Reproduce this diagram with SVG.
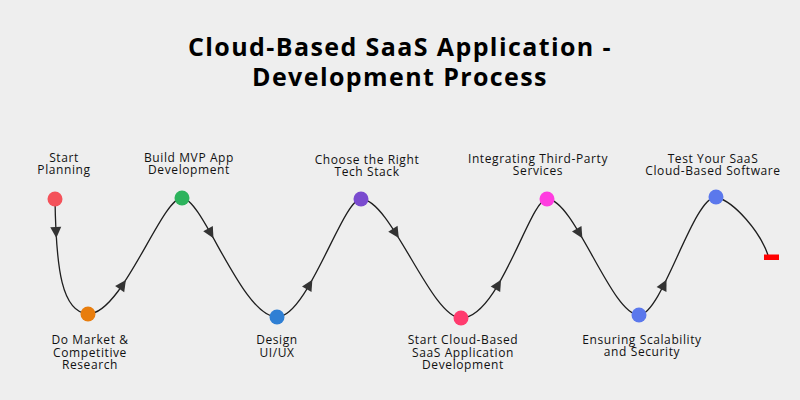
<svg xmlns="http://www.w3.org/2000/svg" width="800" height="400" viewBox="0 0 800 400">
<defs>
<style>
.title{font-family:"Open Sans","Liberation Sans",sans-serif;font-weight:700;font-size:25px;fill:#000;text-anchor:middle;letter-spacing:1.4px}
.lbl{font-family:"Open Sans","Liberation Sans",sans-serif;font-size:12px;fill:#111;text-anchor:middle;letter-spacing:0.6px}
.curve{fill:none;stroke:#1e1e1e;stroke-width:1.3}
</style>
<path id="ah" d="M6,0 L-5,-5.5 L-5,5.5 Z" fill="#333"/>
</defs>
<rect width="800" height="400" fill="#eeeeee"/>
<g id="title">
<text class="title" x="400" y="56">Cloud-Based SaaS Application -</text>
<text class="title" x="400" y="86">Development Process</text>
</g>
<g id="connectors">
<path class="curve" d="M55,199 C56,270 62,312 88,314 C122.8,314 161.3,198 182,198 C202.9,198 241.9,317 277,317 C308.1,317 342.5,199 361,199 C391,199 431,318 461,318 C499.7,318 529.8,199 547,199 C574.6,199 611.4,315 639,315 C662.1,315 692.9,197 716,197 C735,202 760,232 768,255"/>
<use href="#ah" transform="translate(56,232) rotate(87)"/>
<use href="#ah" transform="translate(122.5,285) rotate(-55.5)"/>
<use href="#ah" transform="translate(210.5,233) rotate(60.5)"/>
<use href="#ah" transform="translate(309.3,285) rotate(-59.6)"/>
<use href="#ah" transform="translate(395.6,233) rotate(57.5)"/>
<use href="#ah" transform="translate(498,285) rotate(-59.2)"/>
<use href="#ah" transform="translate(579.3,233) rotate(59.2)"/>
<use href="#ah" transform="translate(663.8,285) rotate(-63.1)"/>
</g>
<g id="n1"><circle cx="55" cy="199" r="7.5" fill="#f4525a"/><text class="lbl" x="64" y="162">Start</text><text class="lbl" x="64" y="174">Planning</text></g>
<g id="n2"><circle cx="88" cy="314" r="7.5" fill="#e87d0d"/><text class="lbl" x="90" y="344">Do Market &amp;</text><text class="lbl" x="90" y="356.5">Competitive</text><text class="lbl" x="90" y="369">Research</text></g>
<g id="n3"><circle cx="182" cy="198" r="7.5" fill="#2cb35c"/><text class="lbl" x="189" y="162">Build MVP App</text><text class="lbl" x="189" y="174">Development</text></g>
<g id="n4"><circle cx="277" cy="317" r="7.5" fill="#2f7fd4"/><text class="lbl" x="277" y="344">Design</text><text class="lbl" x="277" y="356.5">UI/UX</text></g>
<g id="n5"><circle cx="361" cy="199" r="7.5" fill="#7a4bcf"/><text class="lbl" x="367" y="164">Choose the Right</text><text class="lbl" x="367" y="176">Tech Stack</text></g>
<g id="n6"><circle cx="461" cy="318" r="7.5" fill="#ff3b6e"/><text class="lbl" x="463" y="344">Start Cloud-Based</text><text class="lbl" x="463" y="356.5">SaaS Application</text><text class="lbl" x="463" y="369">Development</text></g>
<g id="n7"><circle cx="547" cy="199" r="7.5" fill="#ff3ce0"/><text class="lbl" x="538" y="163">Integrating Third-Party</text><text class="lbl" x="538" y="175">Services</text></g>
<g id="n8"><circle cx="639" cy="315" r="7.5" fill="#5b78ec"/><text class="lbl" x="642" y="344">Ensuring Scalability</text><text class="lbl" x="642" y="356">and Security</text></g>
<g id="n9"><circle cx="716" cy="197" r="7.5" fill="#5b78ec"/><text class="lbl" x="713" y="163">Test Your SaaS</text><text class="lbl" x="713" y="175">Cloud-Based Software</text></g>
<g id="end"><rect x="764" y="254.5" width="15" height="5.5" fill="#ff0000"/></g>
</svg>
